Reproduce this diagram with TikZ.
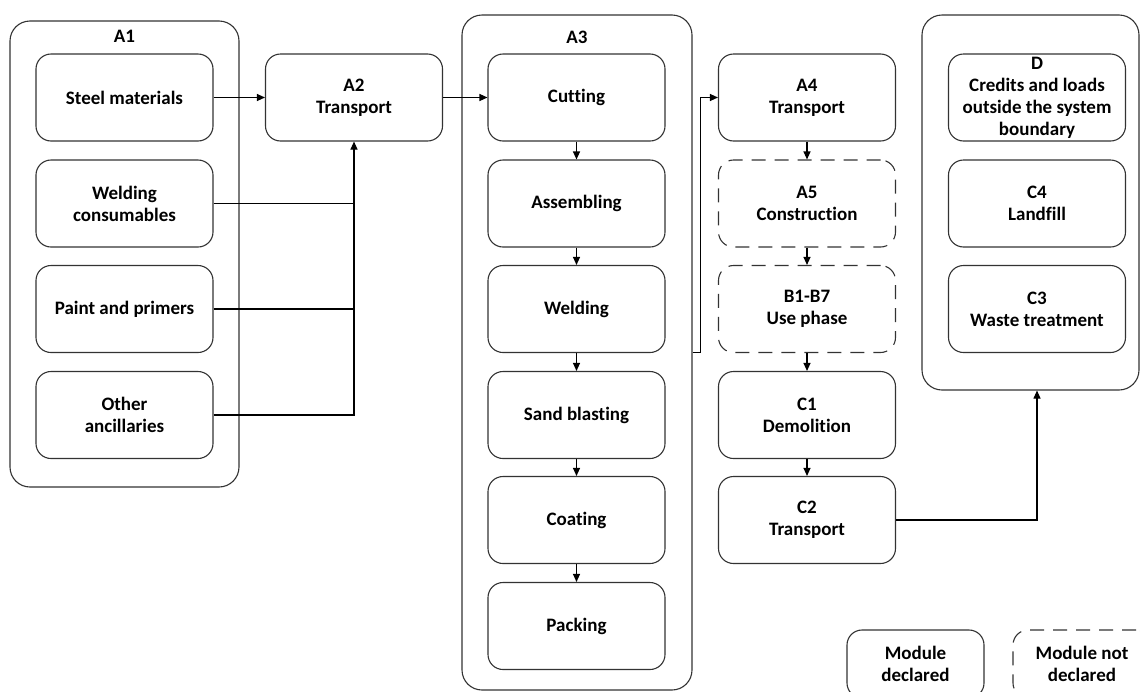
\documentclass[tikz,border=0pt]{standalone}
\usepackage{fontspec}
\setmainfont{Carlito}[Ligatures=NoCommon]
\usetikzlibrary{arrows.meta}

\begin{document}
\begin{tikzpicture}[x=1pt, y=-1pt,
    module/.style={draw=black!80, line width=1.1pt, rounded corners=15pt,
        minimum width=177pt, minimum height=87pt, inner sep=0pt, align=center,
        font=\bfseries\fontsize{19}{22}\selectfont},
    notdeclared/.style={module, dash pattern=on 14pt off 9pt},
    group/.style={draw=black!80, line width=1.1pt, rounded corners=20pt, inner sep=0pt},
    grouplabel/.style={font=\bfseries\fontsize{19}{22}\selectfont},
    flow/.style={-{Triangle[length=8pt,width=7pt]}, line width=1.1pt}]

    \useasboundingbox (0,0) rectangle (1140,691);

    % A1 raw materials (outer box)
    \node[group, minimum width=229pt, minimum height=466pt] (A1grp) at (124.5,254) {};
    \node[grouplabel] (A1lab) at (124.5,36) {A1};
    \node[module] (steel) at (124.5,97.5) {Steel materials};
    \node[module] (weld) at (124.5,203.5) {Welding\\consumables};
    \node[module] (paint) at (124.5,309) {Paint and primers};
    \node[module] (other) at (124.5,415) {Other\\ancillaries};

    % A2 transport
    \node[module] (A2) at (354,97.5) {A2\\Transport};

    % A3 manufacturing (outer box)
    \node[group, minimum width=230pt, minimum height=675pt] (A3grp) at (577,352.5) {};
    \node[grouplabel] (A3lab) at (577,37) {A3};
    \node[module] (cut) at (576.5,97.5) {Cutting};
    \node[module] (assem) at (576.5,203.5) {Assembling};
    \node[module] (weldA3) at (576.5,309) {Welding};
    \node[module] (sand) at (576.5,415) {Sand blasting};
    \node[module] (coat) at (576.5,520) {Coating};
    \node[module] (pack) at (576.5,626) {Packing};

    % A4 to C2
    \node[module] (A4) at (807,97.5) {A4\\Transport};
    \node[notdeclared] (A5) at (807,203.5) {A5\\Construction};
    \node[notdeclared] (B17) at (807,309) {B1-B7\\Use phase};
    \node[module] (C1) at (807,415) {C1\\Demolition};
    \node[module] (C2) at (807,520) {C2\\Transport};

    % D, C4, C3 (outer box)
    \node[group, minimum width=217pt, minimum height=375pt] (Dgrp) at (1030.5,202.5) {};
    \node[module] (D) at (1037,97.5) {D\\Credits and loads\\outside the system\\boundary};
    \node[module] (C4) at (1037,203.5) {C4\\Landfill};
    \node[module] (C3) at (1037,309) {C3\\Waste treatment};

    % Legend
    \node[module, minimum width=137pt, minimum height=68pt] (legdecl) at (915.5,664) {Module\\declared};
    \node[notdeclared, minimum width=138pt, minimum height=68pt] (legnot) at (1082,664) {Module not\\declared};

    % Connectors
    \draw[flow] (steel.east) -- (A2.west);
    \draw[line width=1.1pt] (weld.east) -- (weld.east -| A2.south);
    \draw[line width=1.1pt] (paint.east) -- (paint.east -| A2.south);
    \draw[flow] (other.east) -| (A2.south);
    \draw[flow] (A2.east) -- (cut.west);
    \draw[flow] (cut.south) -- (assem.north);
    \draw[flow] (assem.south) -- (weldA3.north);
    \draw[flow] (weldA3.south) -- (sand.north);
    \draw[flow] (sand.south) -- (coat.north);
    \draw[flow] (coat.south) -- (pack.north);
    \draw[flow] (A3grp.east) -- ++(8,0) |- (A4.west);
    \draw[flow] (A4.south) -- (A5.north);
    \draw[flow] (A5.south) -- (B17.north);
    \draw[flow] (B17.south) -- (C1.north);
    \draw[flow] (C1.south) -- (C2.north);
    \draw[flow] (C2.east) -| (C3 |- Dgrp.south);

\end{tikzpicture}
\end{document}
